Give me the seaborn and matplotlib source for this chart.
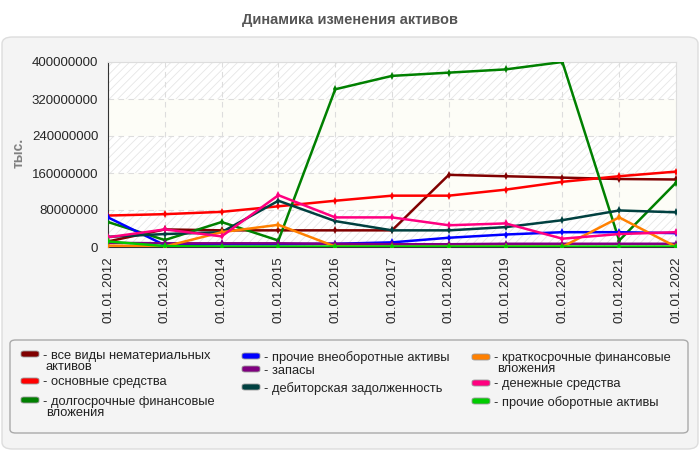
import numpy as np
import pandas as pd
import matplotlib
matplotlib.use("Agg")
import matplotlib.pyplot as plt
import seaborn as sns
from matplotlib.patches import FancyBboxPatch

dates = ["01.01.2012", "01.01.2013", "01.01.2014", "01.01.2015", "01.01.2016", "01.01.2017",
         "01.01.2018", "01.01.2019", "01.01.2020", "01.01.2021", "01.01.2022"]

# значения в тыс.
nematerialnye = [12e6, 38e6, 36e6, 36e6, 36e6, 36e6, 156e6, 153e6, 150e6, 147e6, 146e6]
osnovnye = [68e6, 71e6, 76e6, 88e6, 100e6, 111e6, 111e6, 124e6, 141e6, 153e6, 163e6]
dolgosrochnye = [54e6, 15e6, 54e6, 14e6, 341e6, 370e6, 377e6, 384e6, 400e6, 14e6, 139e6]
prochie_vneob = [64e6, 4e6, 6e6, 6e6, 7e6, 10e6, 20e6, 27e6, 32e6, 32e6, 30e6]
zapasy = [9e6, 8e6, 8e6, 8e6, 7e6, 6e6, 6e6, 7e6, 7e6, 7e6, 7e6]
debitorskaya = [22e6, 28e6, 32e6, 100e6, 56e6, 36e6, 36e6, 43e6, 58e6, 79e6, 75e6]
kratkosrochnye = [3e6, 1e6, 32e6, 48e6, 1e6, 0.5e6, 0.5e6, 0.5e6, 0.5e6, 64e6, 0.5e6]
denezhnye = [21e6, 38e6, 23e6, 112e6, 64e6, 64e6, 47e6, 51e6, 18e6, 28e6, 32e6]
prochie_ob = [12e6, 2e6, 1e6, 1e6, 1e6, 1e6, 1e6, 1e6, 1e6, 1e6, 1e6]

series = {
    "- все виды нематериальных\nактивов": nematerialnye,
    "- основные средства": osnovnye,
    "- долгосрочные финансовые\nвложения": dolgosrochnye,
    "- прочие внеоборотные активы": prochie_vneob,
    "- запасы": zapasy,
    "- дебиторская задолженность": debitorskaya,
    "- краткосрочные финансовые\nвложения": kratkosrochnye,
    "- денежные средства": denezhnye,
    "- прочие оборотные активы": prochie_ob,
}
colors = ["#800000", "#ff0000", "#008000", "#0000ff", "#800080",
          "#004040", "#ff8000", "#ff0080", "#00cc00"]

rows = []
for name, vals in series.items():
    for i, v in enumerate(vals):
        rows.append({"idx": i, "value": v, "series": name})
df = pd.DataFrame(rows)

sns.set_style("white")
plt.rcParams["font.family"] = ["Liberation Sans", "DejaVu Sans"]
plt.rcParams["hatch.linewidth"] = 0.6
plt.rcParams["hatch.color"] = "#e6e6e6"

W, H = 700, 450
fig = plt.figure(figsize=(7, 4.5), dpi=100)
fig.patch.set_facecolor("white")


def fx(px):
    return px / W


def fy(py):
    return 1 - py / H


panel = FancyBboxPatch((fx(2), fy(449)), fx(696), 412 / H, boxstyle="round,pad=0,rounding_size=0.015",
                       transform=fig.transFigure, facecolor="#f4f4f4", edgecolor="#dddddd",
                       linewidth=1, zorder=-10)
fig.patches.append(panel)

fig.text(0.5, fy(20), "Динамика изменения активов", ha="center", va="center",
         fontsize=10.5, fontweight="bold", color="#555555")

ax = fig.add_axes([fx(108), fy(247), fx(568), 185 / H])
ax.set_facecolor("#fdfdf7")

# полосы фона
for k in range(5):
    if k % 2 == 0:
        ax.axhspan(k * 80e6, (k + 1) * 80e6, facecolor="white", hatch="////",
                   edgecolor="#e6e6e6", linewidth=0, zorder=0)

sns.lineplot(data=df, x="idx", y="value", hue="series", palette=colors, ax=ax,
             marker="d", markersize=4, markeredgewidth=0, linewidth=1.8, legend=False, zorder=3)

ax.set_xlim(0, len(dates) - 1)
ax.set_ylim(0, 400e6)
ax.set_xticks(range(len(dates)))
ax.set_xticklabels(dates, rotation=90, fontsize=9.5)
yt = np.arange(0, 400e6 + 1, 80e6)
ax.set_yticks(yt)
ax.set_yticklabels([f"{int(t)}" for t in yt], fontsize=9.5)
ax.set_xlabel("")
ax.set_ylabel("тыс.", fontsize=10, fontweight="bold", color="#808080", va="center")
ax.yaxis.set_label_coords(-0.157, 0.51)
ax.grid(True, color="#dddddd", linestyle=(0, (5, 4)), linewidth=0.8)
ax.set_axisbelow(True)
ax.tick_params(axis="both", direction="out", length=4, width=1, color="#333333", pad=3)
for s in ["top", "right"]:
    ax.spines[s].set_color("#dddddd")
for s in ["left", "bottom"]:
    ax.spines[s].set_color("#333333")

# легенда: рамка и элементы в три колонки
legbox = FancyBboxPatch((fx(10), fy(433)), fx(678), 93 / H, boxstyle="round,pad=0,rounding_size=0.008",
                        transform=fig.transFigure, facecolor="#f4f4f4", edgecolor="#aaaaaa",
                        linewidth=1, zorder=-5)
fig.patches.append(legbox)

col_x = [21, 242, 472]
row_y = [[354, 381, 400], [356, 369, 387], [357, 383, 401]]
names = list(series.keys())
for n, (name, c) in enumerate(zip(names, colors)):
    col, r = n // 3, n % 3
    x0, y0 = col_x[col], row_y[col][r]
    fig.patches.append(FancyBboxPatch((fx(x0), fy(y0 + 3)), fx(18), 6 / H,
                                      boxstyle="round,pad=0,rounding_size=0.004",
                                      transform=fig.transFigure, facecolor=c,
                                      edgecolor="#999999", linewidth=0.6))
    for j, line in enumerate(name.split("\n")):
        xt = x0 + 22 if j == 0 else x0 + 25
        fig.text(fx(xt), fy(y0 + 11 * j), line, ha="left", va="center_baseline",
                 fontsize=9.3, color="#222222")

fig.savefig("out.png", dpi=100)
